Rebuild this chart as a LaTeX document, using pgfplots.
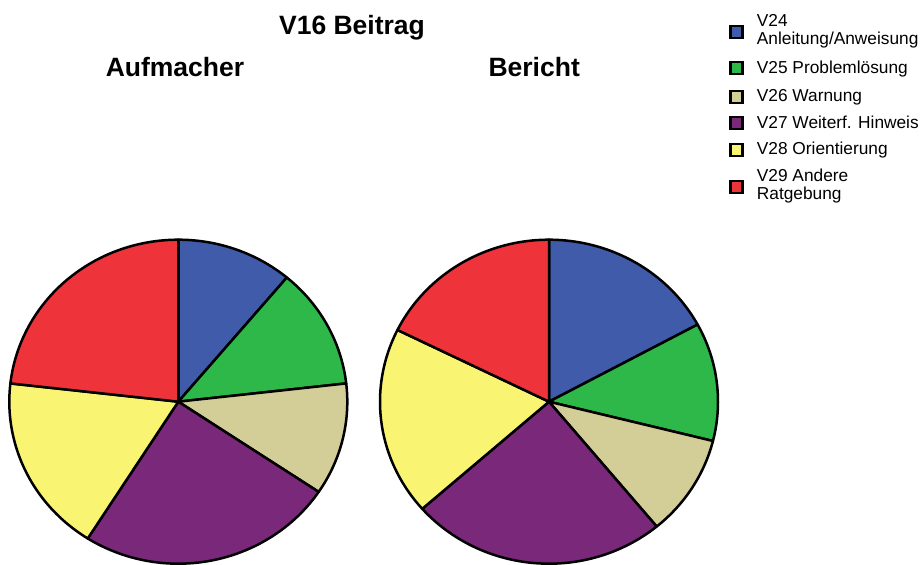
\documentclass[border=0pt]{standalone}
\usepackage{fontspec}
\setmainfont{Liberation Sans}
\usepackage{pgfplots}
\pgfplotsset{compat=1.18}
\definecolor{cA}{HTML}{3F5BAA}
\definecolor{cB}{HTML}{2EB84A}
\definecolor{cC}{HTML}{D3CE98}
\definecolor{cD}{HTML}{7A287A}
\definecolor{cE}{HTML}{F9F471}
\definecolor{cF}{HTML}{EF333B}
% slice: start (cumulative %), share (%), colour
\newcommand{\slice}[3]{%
  \addplot[fill=#3, draw=black, line width=2.5pt, line join=round, domain={3.6*(#1)}:{3.6*(#1+#2)}, samples=90, variable=\t]
    ({sin(\t)},{cos(\t)}) -- (axis cs:0,0) -- cycle;}
\pgfplotsset{pie/.style={width=338pt, height=324pt, scale only axis, xmin=-1, xmax=1, ymin=-1, ymax=1, hide axis, clip=false, anchor=center}}
\begin{document}
\begin{tikzpicture}[x=1pt,y=1pt]
\useasboundingbox (0,0) rectangle (924,565);
% Aufmacher
\begin{axis}[pie, at={(178.3pt,163.3pt)}]
\slice{0}{11.1}{cA}
\slice{11.1}{12.1}{cB}
\slice{23.2}{11.2}{cC}
\slice{34.4}{24.6}{cD}
\slice{59.0}{17.8}{cE}
\slice{76.8}{23.2}{cF}
\end{axis}
% Bericht
\begin{axis}[pie, at={(549pt,163.3pt)}]
\slice{0}{17.1}{cA}
\slice{17.1}{11.8}{cB}
\slice{28.9}{10.1}{cC}
\slice{39.0}{24.5}{cD}
\slice{63.5}{18.8}{cE}
\slice{82.3}{17.7}{cF}
\end{axis}
% titles
\node[anchor=base, font=\fontsize{26.5}{30}\selectfont\bfseries, inner sep=0] at (352,530) {V16 Beitrag};
\node[anchor=base, font=\fontsize{26.5}{30}\selectfont\bfseries, inner sep=0] at (175,488.3) {Aufmacher};
\node[anchor=base, font=\fontsize{26.5}{30}\selectfont\bfseries, inner sep=0] at (534.2,488.3) {Bericht};
% legend
\begin{scope}[every node/.style={anchor=base west, inner sep=0, font=\fontsize{17.3}{18}\selectfont}]
\def\sq#1#2{\draw[fill=#1, line width=2.2pt] (730.5,{565-#2-6}) rectangle (742.5,{565-#2+6});}
\sq{cA}{31.7} \node at (756.7,{565-26.7}) {V24}; \node at (756.7,{565-45}) {Anleitung/Anweisung};
\sq{cB}{68.3} \node at (756.7,{565-73.3}) {V25 Problemlösung};
\sq{cC}{96.7} \node at (756.7,{565-101.7}) {V26 Warnung};
\sq{cD}{123.3} \node at (756.7,{565-128.3}) {V27 Weiterf. Hinweis};
\sq{cE}{150} \node at (756.7,{565-155}) {V28 Orientierung};
\sq{cF}{186.7} \node at (756.7,{565-181.7}) {V29 Andere}; \node at (756.7,{565-200}) {Ratgebung};
\end{scope}
\end{tikzpicture}
\end{document}
